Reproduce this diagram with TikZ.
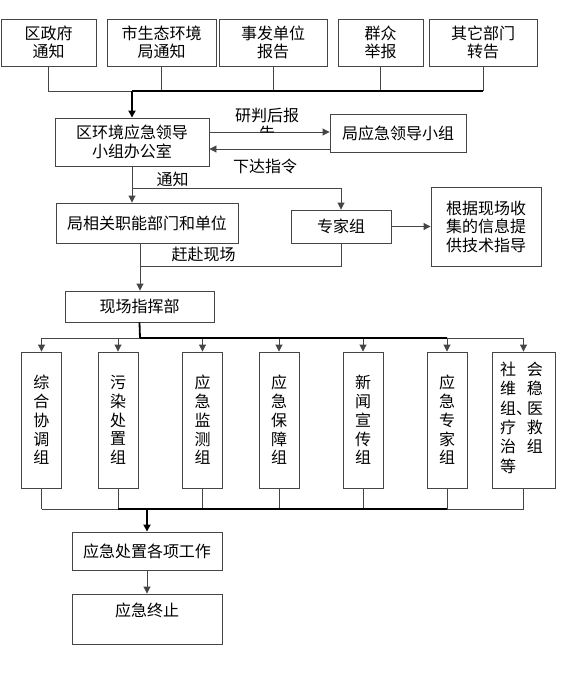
\documentclass[tikz,border=0pt]{standalone}
\usepackage{fontspec}
\setmainfont{Noto Sans CJK SC}
\usepackage{xcolor}
\definecolor{flowln}{HTML}{454545}
\usepackage{tikz}
\usetikzlibrary{arrows.meta,positioning,calc}

\begin{document}
\begin{tikzpicture}[x=1pt,y=-1pt,
  box/.style={draw=flowln,line width=0.9pt,fill=white,align=center,inner sep=0pt,
    font=\fontsize{16pt}{18.5pt}\selectfont},
  tall/.style={box,minimum width=40pt,minimum height=136pt,
    font=\fontsize{16pt}{18.75pt}\selectfont},
  ln/.style={draw=flowln,line width=0.9pt},
  bus/.style={draw=black,line width=1.8pt},
  arr/.style={-{Triangle[width=7pt,length=7pt]}},
  lbl/.style={inner sep=0pt,align=center,font=\fontsize{16pt}{18.5pt}\selectfont}]
\useasboundingbox (0,0) rectangle (571,697);

% report sources
\node[box,minimum width=95pt,minimum height=47pt] (qzf) at (48.5,42.5) {区政府\\通知};
\node[box,minimum width=109pt,minimum height=47pt] (sst) at (161.5,42.5) {市生态环境\\局通知};
\node[box,minimum width=108pt,minimum height=47pt] (sfdw) at (273,42.5) {事发单位\\报告};
\node[box,minimum width=85pt,minimum height=47pt] (qzjb) at (380.5,42.5) {群众\\举报};
\node[box,minimum width=108pt,minimum height=47pt] (qtbm) at (483,42.5) {其它部门\\转告};

% leading group office
\node[box,minimum width=154pt,minimum height=48pt] (bgs) at (132,142) {区环境应急领导\\小组办公室};
\node[box,minimum width=136pt,minimum height=38pt] (ldxz) at (398,133) {局应急领导小组};

\coordinate (hub) at (132,91);
\draw[ln] (qzf.south) |- (hub);
\foreach \s in {sst,sfdw,qzjb,qtbm}
  \draw[ln] (\s.south) -- (\s.south |- hub);
\draw[bus] (hub) -- (hub -| qtbm.south);
\draw[bus,arr] (hub) -- (bgs.north);

\coordinate (up) at ([yshift=10pt]bgs.east);
\coordinate (dn) at ([yshift=-7pt]bgs.east);
\draw[ln,arr] (up) -- (up -| ldxz.west);
\draw[ln,arr] (dn -| ldxz.west) -- (dn);
\begin{scope}
  \clip (220,100) rectangle (320,133);
  \node[lbl] (ypbg) at (267,124.5) {研判后报\\告};
\end{scope}
\node[lbl] (xdzl) at (265,166.5) {下达指令};

% departments and experts
\node[box,minimum width=182pt,minimum height=40pt] (xgbm) at (147,223) {局相关职能部门和单位};
\node[box,minimum width=100pt,minimum height=33pt] (zjz) at (341,226.5) {专家组};
\node[box,minimum width=110pt,minimum height=79pt] (jszd) at (486,226.5) {根据现场收\\集的信息提\\供技术指导};

\coordinate (tz) at (132,188);
\draw[ln,arr] (bgs.south) -- (bgs.south |- xgbm.north);
\draw[ln,arr] (tz) -| (zjz.north);
\node[lbl] (tzl) at (172.5,179.5) {通知};
\draw[ln,arr] (zjz) -- (jszd);

% site command
\node[box,minimum width=149pt,minimum height=31pt] (xczh) at (139.5,306.5) {现场指挥部};
\coordinate (gf) at (140,266);
\draw[ln] (zjz.south) |- (gf);
\draw[ln,arr] (gf |- xgbm.south) -- (gf |- xczh.north);
\node[lbl] (gfxc) at (203.5,254.5) {赶赴现场};

% working groups
\coordinate (zhb) at (140,338);
\coordinate (hzb) at (147,509);
\foreach \n/\x/\t in {zhxt/41.5/{综\\合\\协\\调\\组},wrcz/118/{污\\染\\处\\置\\组},
    yjjc/202.5/{应\\急\\监\\测\\组},yjbz/279/{应\\急\\保\\障\\组},
    xwxc/363/{新\\闻\\宣\\传\\组},yjzj/447/{应\\急\\专\\家\\组}}{
  \node[tall] (\n) at (\x,420) {\t};
  \draw[ln,arr] (\n.north |- zhb) -- (\n.north);
  \draw[ln] (\n.south) -- (\n.south |- hzb);
}
\node[tall,minimum width=63pt,font=\fontsize{16pt}{19.4pt}\selectfont] (shwy) at (523.5,420)
  {\raisebox{7pt}{\begin{tabular}{@{}c@{\hspace{11pt}}c@{}}
   社&会\\ 维&稳\\ 组\rlap{、}&医\\ 疗&救\\ 治&组\\ 等&
   \end{tabular}}\hspace{4pt}};
\draw[ln,arr] (shwy.north |- zhb) -- (shwy.north);
\draw[ln] (shwy.south) -- (shwy.south |- hzb);

\draw[bus] (xczh.south) -- (zhb) -- (zhb -| yjzj.north);
\draw[ln] (zhb) -- (zhb -| zhxt.north);
\draw[ln] (zhb -| yjzj.north) -- (zhb -| shwy.north);

\draw[ln] (zhxt.south |- hzb) -- (wrcz.south |- hzb);
\draw[bus] (wrcz.south |- hzb) -- (yjzj.south |- hzb);
\draw[ln] (yjzj.south |- hzb) -- (shwy.south |- hzb);

% emergency handling
\node[box,minimum width=150pt,minimum height=38pt] (czgz) at (147,551) {应急处置各项工作};
\node[box,minimum width=150pt,minimum height=50pt] (yjzz) at (147,619) {应急终止\\\mbox{}};
\draw[bus,arr] (hzb) -- (czgz.north);
\draw[ln,arr] (czgz) -- (yjzz);
\end{tikzpicture}
\end{document}
